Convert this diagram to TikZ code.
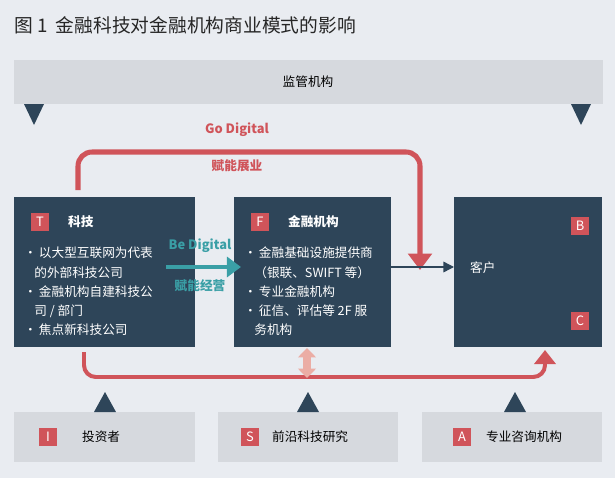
\documentclass[tikz,border=0pt]{standalone}
\usepackage{fontspec}
\setmainfont{Noto Sans CJK SC}
\usetikzlibrary{arrows.meta}
\definecolor{bgc}{HTML}{E9ECF1}
\definecolor{navy}{HTML}{2E4559}
\definecolor{redc}{HTML}{D0545A}
\definecolor{tealc}{HTML}{3A9FA6}
\definecolor{boxg}{HTML}{D6D9DE}
\definecolor{pinkc}{HTML}{EBADA5}
\tikzstyle{dbox}=[fill=navy,draw=none,text=white]
\tikzstyle{gbox}=[fill=boxg,draw=none]
\tikzstyle{tag}=[fill=redc,text=white,minimum size=15pt,inner sep=0pt,font=\fontsize{11}{12}\selectfont]
\tikzstyle{tri}=[fill=navy,draw=none]
\tikzstyle{body}=[text=white,anchor=north west,align=left,font=\fontsize{10.8}{16.4}\selectfont,inner sep=0pt]
\begin{document}
\begin{tikzpicture}[x=0.03cm,y=-0.03cm]
        \fill[bgc] (0,0) rectangle (615,478);
        \useasboundingbox (0,0) rectangle (615,478);
        \node[anchor=west,inner sep=0pt,font=\fontsize{16}{18}\selectfont,text=black!85] (title) at (14,25) {图 1\ \ 金融科技对金融机构商业模式的影响};
        %
        \fill[gbox] (14,60) rectangle (603,104);
        \node[font=\fontsize{10.8}{12}\selectfont] (reg) at (308,82) {监管机构};
        \fill[tri] (24,104) -- (44,104) -- (34,125) -- cycle;
        \fill[tri] (571,104) -- (591,104) -- (581,125) -- cycle;
        %
        \fill[dbox] (14,197) rectangle (195,347);
        \fill[dbox] (234,197) rectangle (391,347);
        \fill[dbox] (454,197) rectangle (602,347);
        \node[tag] (tT) at (40,222) {T};
        \node[text=white,font=\fontsize{10.8}{12}\selectfont\bfseries,anchor=west] at (64,222) {科技};
        \node[tag] (tF) at (260,222) {F};
        \node[text=white,font=\fontsize{10.8}{12}\selectfont\bfseries,anchor=west] at (284,222) {金融机构};
        \node[tag] (tB) at (580,226) {B};
        \node[tag] (tC) at (580,321) {C};
        \node[text=white,font=\fontsize{10.8}{12}\selectfont,anchor=west] (cust) at (466,268) {客户};
        \node[body] (tlist) at (24,247) {·\,以大型互联网为代表\\\hspace{0.8em}的外部科技公司\\·\,金融机构自建科技公\\\hspace{0.8em}司 / 部门\\·\,焦点新科技公司};
        \node[body] (flist) at (244,247) {·\,金融基础设施提供商\\\hspace{0.8em}（银联、SWIFT 等）\\·\,专业金融机构\\·\,征信、评估等 2F 服\\\hspace{0.8em}务机构};
        %
        \coordinate (g0) at (78,190);
        \coordinate (g1) at (420,270);
        \draw[redc,line width=4.3pt,rounded corners=12pt,-{Triangle[length=14pt,width=20pt]}]
            (g0) -- (78,152) -- (420,152) -- (g1);
        \node[text=redc,font=\fontsize{11}{12}\selectfont\bfseries] at (237,130) {Go Digital};
        \node[text=redc,font=\fontsize{10.8}{12}\selectfont\bfseries] at (237,166) {赋能展业};
        %
        \draw[tealc,line width=3.8pt,-{Triangle[length=12pt,width=17pt]}] (166,267) -- (241,267);
        \node[text=tealc,font=\fontsize{11}{12}\selectfont\bfseries] at (200,246) {Be Digital};
        \node[text=tealc,font=\fontsize{10.8}{12}\selectfont\bfseries] at (200,286) {赋能经营};
        \draw[navy,line width=1.2pt,-{Triangle[length=9pt,width=9pt]}] (391,267) -- (454,267);
        %
        \draw[redc,line width=3.4pt,rounded corners=10pt,-{Triangle[length=12pt,width=18pt]}]
            (84,352) -- (84,377) -- (545,377) -- (545,350);
        \draw[pinkc,line width=7pt,{Triangle[length=8pt,width=15pt]}-{Triangle[length=8pt,width=15pt]}] (307,348) -- (307,378);
        %
        \fill[gbox] (14,412) rectangle (195,462);
        \fill[gbox] (218,412) rectangle (398,462);
        \fill[gbox] (422,412) rectangle (602,462);
        \fill[tri] (94,412) -- (116,412) -- (105,392) -- cycle;
        \fill[tri] (297,412) -- (319,412) -- (308,392) -- cycle;
        \fill[tri] (504,412) -- (526,412) -- (515,392) -- cycle;
        \node[tag] (tI) at (48,437) {I};
        \node[font=\fontsize{10.8}{12}\selectfont,anchor=west] at (78,437) {投资者};
        \node[tag] (tS) at (250,437) {S};
        \node[font=\fontsize{10.8}{12}\selectfont,anchor=west] at (268,437) {前沿科技研究};
        \node[tag] (tA) at (462,437) {A};
        \node[font=\fontsize{10.8}{12}\selectfont,anchor=west] at (482,437) {专业咨询机构};
\end{tikzpicture}
\end{document}
